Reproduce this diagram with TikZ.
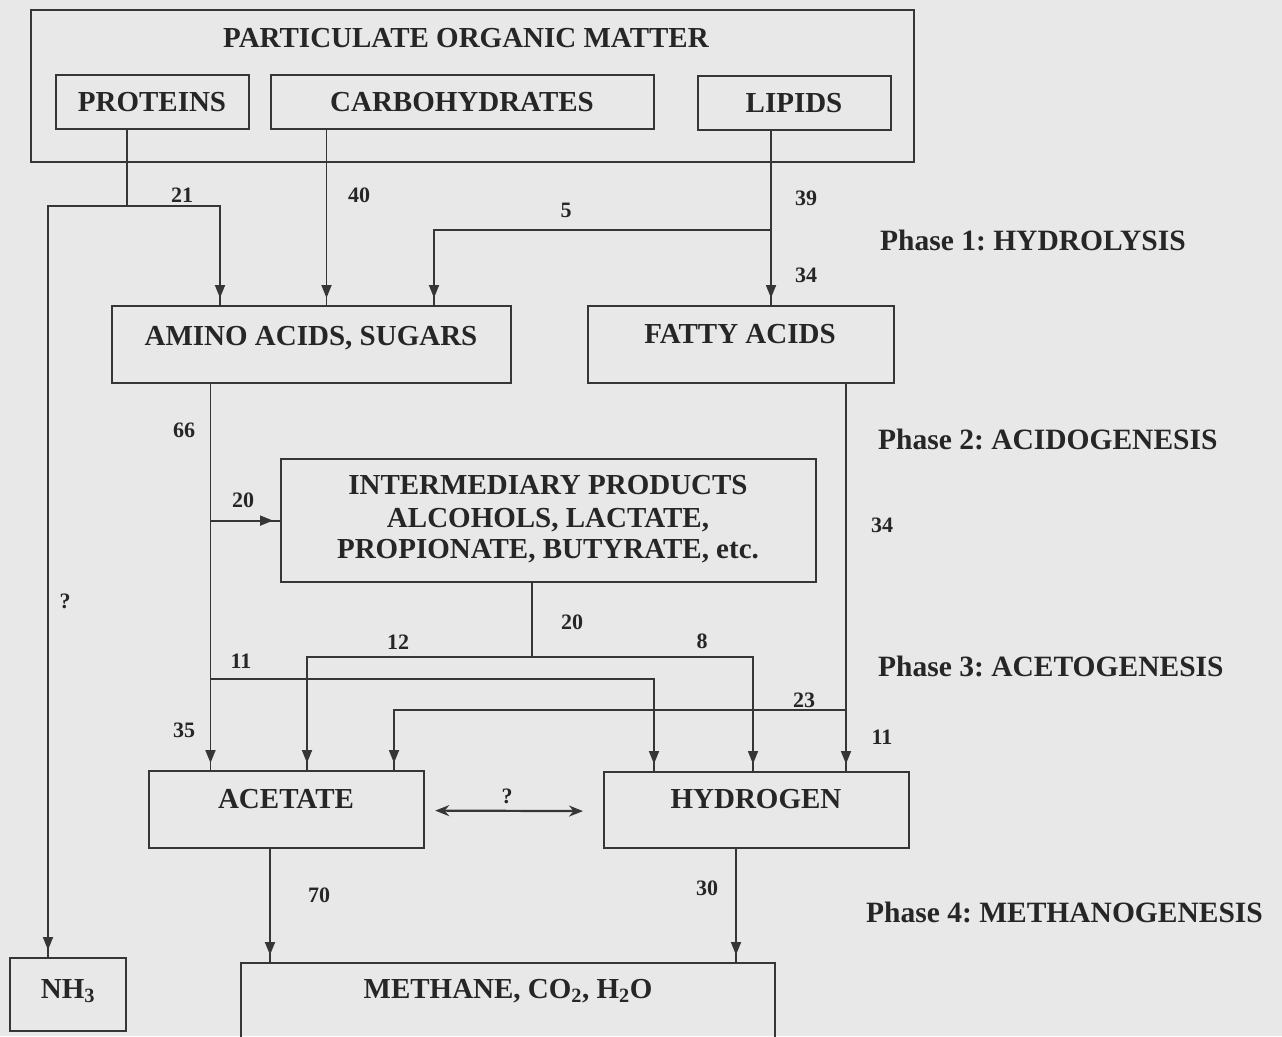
\documentclass[tikz,border=0pt]{standalone}
\usepackage{fontspec}
\setmainfont{Liberation Serif}
\usetikzlibrary{arrows.meta,decorations.markings}
\definecolor{bgc}{HTML}{E8E8E8}
\definecolor{linec}{HTML}{363636}
\definecolor{txtc}{HTML}{262626}
\frenchspacing
\begin{document}
\begin{tikzpicture}[x=1pt,y=-1pt,
  box/.style={draw=linec, line width=2.2pt, inner sep=0pt, anchor=north west},
  btxt/.style={text=txtc, font=\fontsize{29}{32}\selectfont\bfseries, anchor=base, inner sep=0pt, align=center},
  ptxt/.style={text=txtc, font=\fontsize{29.5}{32}\selectfont\bfseries, anchor=base west, inner sep=0pt},
  num/.style={text=txtc, font=\fontsize{22}{24}\selectfont\bfseries, anchor=base, inner sep=0pt},
  conn/.style={draw=linec, line width=1.8pt},
  arr/.style={conn, postaction={decorate}, decoration={markings,
      mark=at position -7pt with {\arrow{Triangle[length=13pt,width=10pt]}}}},
  darr/.style={draw=linec, line width=2.2pt, {Stealth[length=14pt,width=11pt]}-{Stealth[length=14pt,width=11pt]}}]
\fill[bgc] (0,0) rectangle (1282,1036);
\useasboundingbox (0,0) rectangle (1282,1036);
\clip (0,0) rectangle (1282,1036);
% boxes
\node[box, minimum width=883pt, minimum height=152pt] (pom) at (30,9) {};
\node[box, minimum width=193pt, minimum height=54pt] (prot) at (55,74) {};
\node[box, minimum width=383pt, minimum height=54pt] (carb) at (270,74) {};
\node[box, minimum width=193pt, minimum height=54pt] (lip) at (697,75) {};
\node[box, minimum width=399pt, minimum height=77pt] (amino) at (111,305) {};
\node[box, minimum width=306pt, minimum height=77pt] (fatty) at (587,305) {};
\node[box, minimum width=535pt, minimum height=123pt] (inter) at (280,458) {};
\node[box, minimum width=275pt, minimum height=77pt] (acetate) at (148,770) {};
\node[box, minimum width=305pt, minimum height=76pt] (hydrogen) at (603,771) {};
\node[box, minimum width=116pt, minimum height=73pt] (nh3) at (9,957) {};
\node[box, minimum width=534pt, minimum height=100pt] (methane) at (240,962) {};
% box texts
\node[btxt] (t-pom) at (466,47) {PARTICULATE ORGANIC MATTER};
\node[btxt] (t-prot) at (152,111) {PROTEINS};
\node[btxt] (t-carb) at (462,111) {CARBOHYDRATES};
\node[btxt] (t-lip) at (794,112) {LIPIDS};
\node[btxt] (t-amino) at (311,345) {AMINO ACIDS, SUGARS};
\node[btxt] (t-fatty) at (740,343) {FATTY ACIDS};
\node[btxt] (t-inter1) at (548,494) {INTERMEDIARY PRODUCTS};
\node[btxt] (t-inter2) at (548,527) {ALCOHOLS, LACTATE,};
\node[btxt] (t-inter3) at (548,558) {PROPIONATE, BUTYRATE, etc.};
\node[btxt] (t-acetate) at (286,808) {ACETATE};
\node[btxt] (t-hydrogen) at (756,808) {HYDROGEN};
\node[btxt] (t-nh3) at (68,998) {NH\textsubscript{3}};
\node[btxt] (t-methane) at (508,998) {METHANE, CO\textsubscript{2}, H\textsubscript{2}O};
% phase labels
\node[ptxt] (ph1) at (880,250) {Phase 1: HYDROLYSIS};
\node[ptxt] (ph2) at (878,449) {Phase 2: ACIDOGENESIS};
\node[ptxt] (ph3) at (878,676) {Phase 3: ACETOGENESIS};
\node[ptxt] (ph4) at (866,922) {Phase 4: METHANOGENESIS};
% helper coordinates
\coordinate (pj) at (127,206);
\coordinate (pa) at (220,0);
\coordinate (nhx) at (48,0);
\coordinate (cx) at (326.5,0);
\coordinate (lx) at (771,0);
\coordinate (lj) at (771,230);
\coordinate (l5) at (434,0);
\coordinate (ax) at (210.5,0);
\coordinate (a11) at (210.5,679);
\coordinate (h1x) at (654,0);
\coordinate (ij) at (532,657);
\coordinate (a2x) at (307,0);
\coordinate (h2x) at (753,0);
\coordinate (fx) at (846,0);
\coordinate (fj) at (846,710);
\coordinate (a3x) at (394,0);
\coordinate (mx1) at (270,0);
\coordinate (mx2) at (736,0);
% connectors
\draw[conn] (prot.south -| pj) -- (pj);
\draw[arr] (pj) -| (amino.north -| pa);
\draw[arr] (pj) -| (nh3.north -| nhx);
\draw[arr] (carb.south -| cx) -- (amino.north -| cx);
\draw[arr] (lip.south -| lx) -- (fatty.north -| lx);
\draw[arr] (lj) -| (amino.north -| l5);
\draw[arr] (amino.south -| ax) -- (acetate.north -| ax);
\draw[arr] (inter.west -| ax) -- (inter.west);
\draw[arr] (a11) -| (hydrogen.north -| h1x);
\draw[conn] (inter.south -| ij) -- (ij);
\draw[arr] (ij) -| (acetate.north -| a2x);
\draw[arr] (ij) -| (hydrogen.north -| h2x);
\draw[arr] (fatty.south -| fx) -- (hydrogen.north -| fx);
\draw[arr] (fj) -| (acetate.north -| a3x);
\draw[darr] ([xshift=10pt,yshift=-1pt]acetate.east) -- ([xshift=-20pt,yshift=-1pt]hydrogen.west);
\draw[arr] (acetate.south -| mx1) -- (methane.north -| mx1);
\draw[arr] (hydrogen.south -| mx2) -- (methane.north -| mx2);
% numbers
\node[num] (n21) at (182,202) {21};
\node[num] (n40) at (359,202) {40};
\node[num] (n5) at (566,217) {5};
\node[num] (n39) at (806,205) {39};
\node[num] (n34a) at (806,282) {34};
\node[num] (n66) at (184,437) {66};
\node[num] (n20a) at (243,507) {20};
\node[num] (n34b) at (882,532) {34};
\node[num] (n20b) at (572,629) {20};
\node[num] (n12) at (398,649) {12};
\node[num] (n8) at (702,648) {8};
\node[num] (n11a) at (241,668) {11};
\node[num] (n23) at (804,707) {23};
\node[num] (n11b) at (882,744) {11};
\node[num] (n35) at (184,737) {35};
\node[num] (nq1) at (507,803) {?};
\node[num] (nq2) at (65,608) {?};
\node[num] (n70) at (319,902) {70};
\node[num] (n30) at (707,895) {30};
\end{tikzpicture}
\end{document}
